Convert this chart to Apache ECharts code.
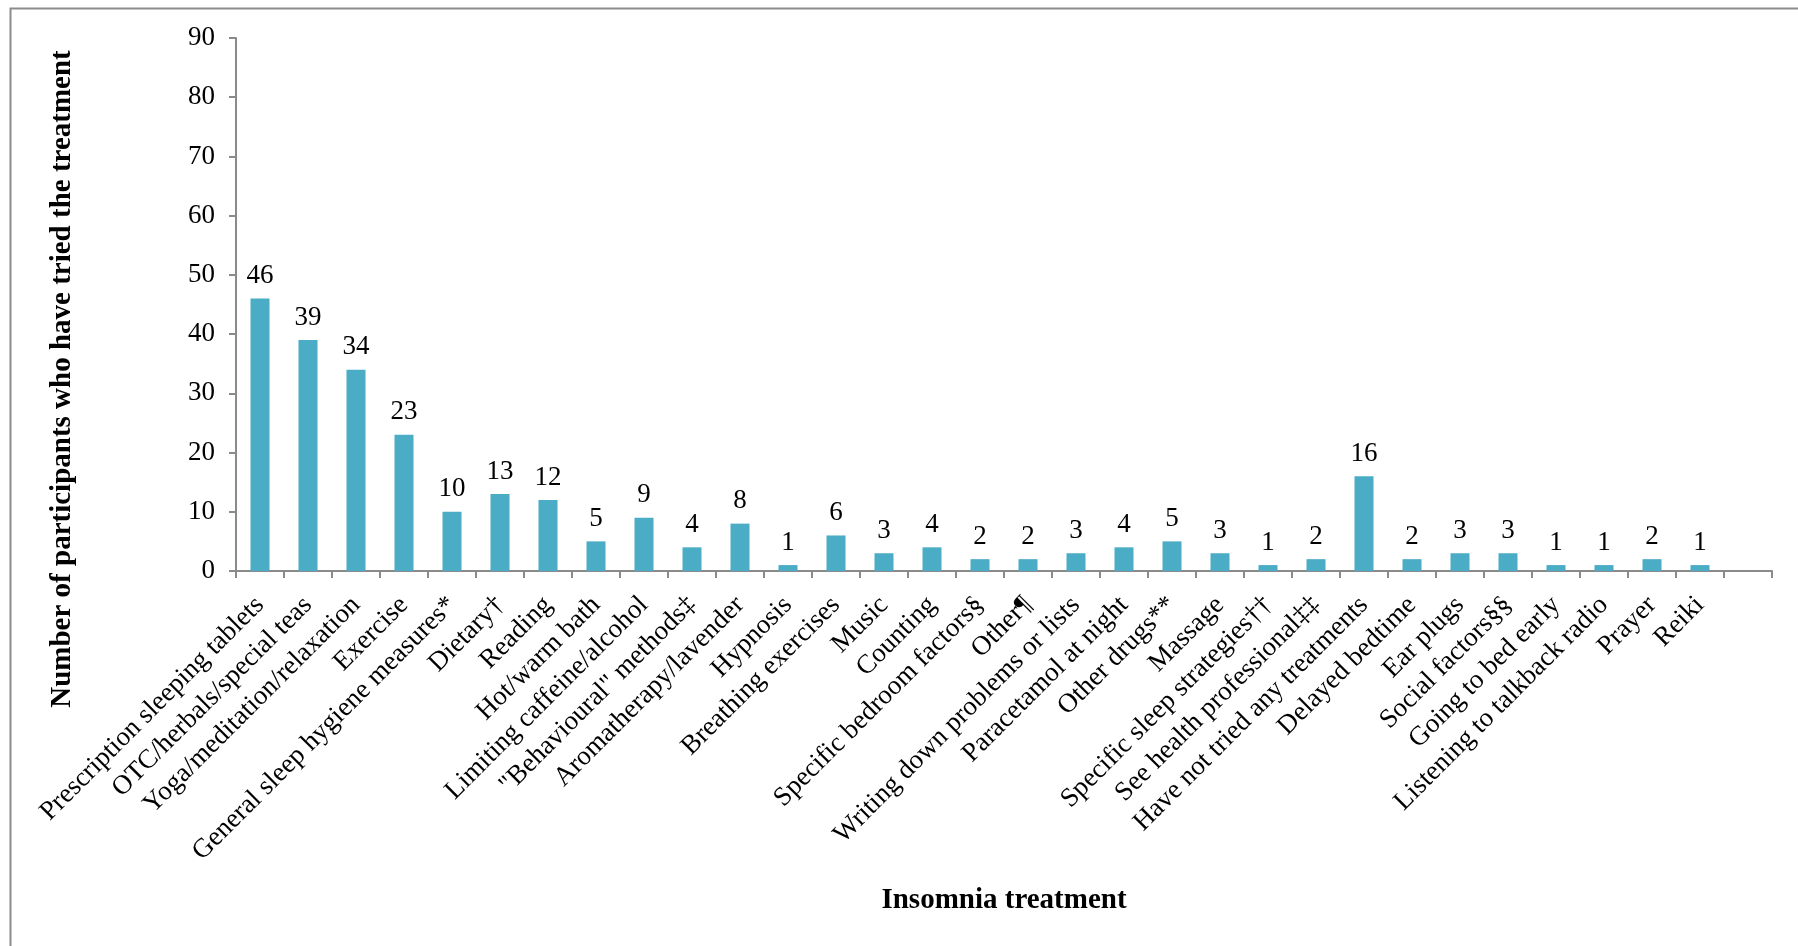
<!DOCTYPE html>
<html>
<head>
<meta charset="utf-8">
<title>Insomnia treatments tried</title>
<script src="https://cdn.jsdelivr.net/npm/echarts@6/dist/echarts.min.js"></script>
<style>
  html, body { margin: 0; padding: 0; background: #ffffff; }
  #chart { width: 1798px; height: 946px; }
</style>
</head>
<body>
<div id="chart"></div>
<script>
// Treatments reported by participants (last slot is left empty on the axis)
const treatments = [
  'Prescription sleeping tablets',
  'OTC/herbals/special teas',
  'Yoga/meditation/relaxation',
  'Exercise',
  'General sleep hygiene measures*',
  'Dietary†',
  'Reading',
  'Hot/warm bath',
  'Limiting caffeine/alcohol',
  '"Behavioural" methods‡',
  'Aromatherapy/lavender',
  'Hypnosis',
  'Breathing exercises',
  'Music',
  'Counting',
  'Specific bedroom factors§',
  'Other¶',
  'Writing down problems or lists',
  'Paracetamol at night',
  'Other drugs**',
  'Massage',
  'Specific sleep strategies††',
  'See health professional‡‡',
  'Have not tried any treatments',
  'Delayed bedtime',
  'Ear plugs',
  'Social factors§§',
  'Going to bed early',
  'Listening to talkback radio',
  'Prayer',
  'Reiki',
  ''
];

// Number of participants who tried each treatment
const participants = [
  46, 39, 34, 23, 10, 13, 12, 5, 9, 4, 8, 1, 6, 3, 4, 2,
  2, 3, 4, 5, 3, 1, 2, 16, 2, 3, 3, 1, 1, 2, 1, null
];

// Value axis ticks
const yTicks = { min: 0, max: 90, step: 10 };

const yTitle = 'Number of participants who have tried the treatment';
const xTitle = 'Insomnia treatment';

const serif = '"Liberation Serif", "Times New Roman", serif';
const axisGray = '#8a8a8a';

const chart = echarts.init(document.getElementById('chart'), null, { renderer: 'canvas' });

chart.setOption({
  animation: false,
  backgroundColor: '#ffffff',
  grid: { left: 236, right: 26, top: 38, bottom: 375, containLabel: false },
  xAxis: {
    type: 'category',
    data: treatments,
    boundaryGap: true,
    axisLine: { show: true, lineStyle: { color: axisGray, width: 2 } },
    axisTick: { show: true, alignWithLabel: false, length: 7, lineStyle: { color: axisGray, width: 2 } },
    axisLabel: {
      interval: 0,
      rotate: 45,
      margin: 30,
      fontFamily: serif,
      fontSize: 27,
      color: '#000000'
    },
    splitLine: { show: false }
  },
  yAxis: {
    type: 'value',
    min: yTicks.min,
    max: yTicks.max,
    interval: yTicks.step,
    axisLine: { show: true, lineStyle: { color: axisGray, width: 2 } },
    axisTick: { show: true, length: 7, lineStyle: { color: axisGray, width: 2 } },
    axisLabel: { margin: 21, fontFamily: serif, fontSize: 27, color: '#000000' },
    splitLine: { show: false }
  },
  series: [{
    type: 'bar',
    data: participants,
    barWidth: 19,
    itemStyle: { color: '#4BACC6' },
    label: {
      show: true,
      position: 'top',
      distance: 9,
      fontFamily: serif,
      fontSize: 27,
      color: '#000000'
    }
  }],
  graphic: [
    {
      type: 'rect',
      silent: true,
      shape: { x: 10.5, y: 8.5, width: 2400, height: 2400 },
      style: { fill: 'none', stroke: '#8c8c8c', lineWidth: 2 }
    },
    {
      type: 'text',
      x: 63,
      y: 379,
      rotation: Math.PI / 2,
      style: {
        text: yTitle,
        font: 'bold 29px ' + serif,
        fill: '#000000',
        align: 'center',
        verticalAlign: 'middle'
      }
    },
    {
      type: 'text',
      x: 1004,
      y: 901,
      style: {
        text: xTitle,
        font: 'bold 29px ' + serif,
        fill: '#000000',
        align: 'center',
        verticalAlign: 'middle'
      }
    }
  ]
});
</script>
</body>
</html>
